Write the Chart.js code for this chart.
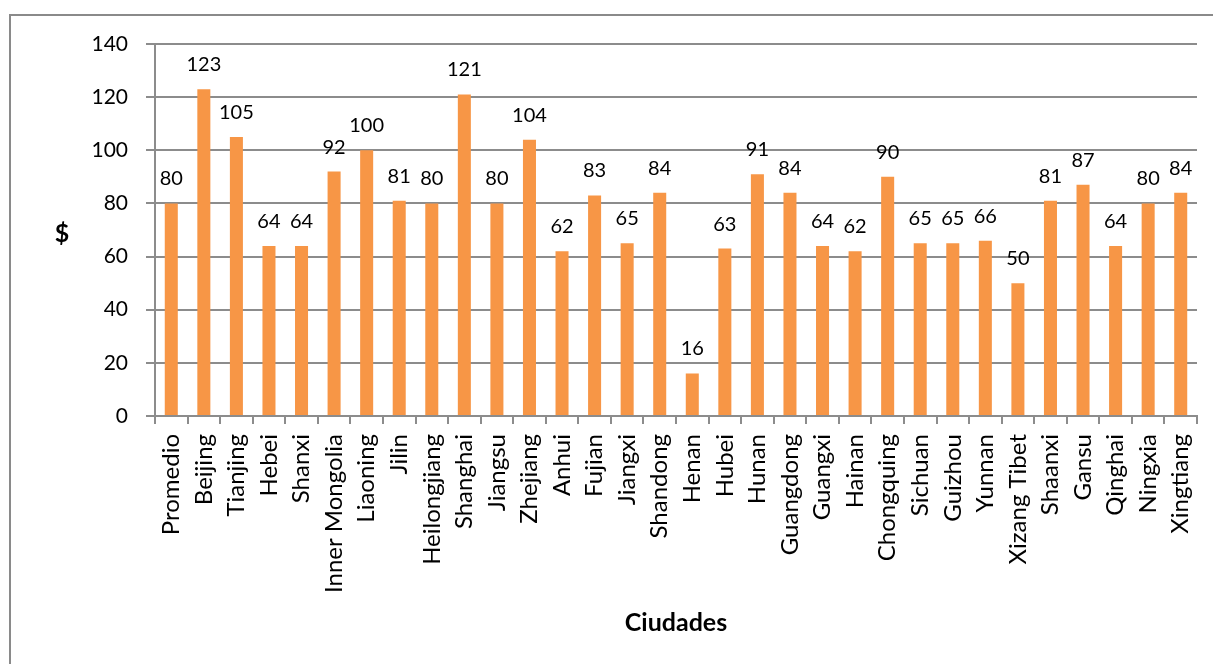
<!DOCTYPE html>
<html>
<head>
<meta charset="utf-8">
<script src="https://cdn.jsdelivr.net/npm/chart.js@4"></script>
<style>
  html, body { margin: 0; padding: 0; background: #fff; overflow: hidden; }
  #frame { position: absolute; left: 9px; top: 14px; width: 1300px; height: 700px; border: 2px solid #8a8a8a; box-sizing: border-box; }
  #wrap { position: absolute; left: 0; top: 0; width: 1213px; height: 664px; }
</style>
</head>
<body>
<div id="frame"></div>
<div id="wrap"><canvas id="c" width="1213" height="664"></canvas></div>
<script>
const categories = ["Promedio", "Beijing", "Tianjing", "Hebei", "Shanxi", "Inner Mongolia", "Liaoning", "Jilin",
  "Heilongjiang", "Shanghai", "Jiangsu", "Zhejiang", "Anhui", "Fujian", "Jiangxi", "Shandong", "Henan", "Hubei",
  "Hunan", "Guangdong", "Guangxi", "Hainan", "Chongquing", "Sichuan", "Guizhou", "Yunnan", "Xizang Tibet",
  "Shaanxi", "Gansu", "Qinghai", "Ningxia", "Xingtiang"];
const values = [80, 123, 105, 64, 64, 92, 100, 81, 80, 121, 80, 104, 62, 83, 65, 84, 16, 63, 91, 84, 64, 62, 90,
  65, 65, 66, 50, 81, 87, 64, 80, 84];
const yTicks = [0, 20, 40, 60, 80, 100, 120, 140];
const yTitle = "$";
const xTitle = "Ciudades";

const FONT = "Lato, 'Open Sans', sans-serif";
const GRID = "#8c8c8c";

// value printed above each bar, positioned from the bar element itself
const valueLabels = {
  id: "valueLabels",
  afterDatasetsDraw(chart) {
    const ctx = chart.ctx;
    const meta = chart.getDatasetMeta(0);
    ctx.save();
    ctx.font = "20px " + FONT;
    ctx.fillStyle = "#000";
    ctx.textAlign = "center";
    ctx.textBaseline = "alphabetic";
    meta.data.forEach((bar, i) => {
      ctx.fillText(String(values[i]), bar.x, bar.y - 18);
    });
    ctx.restore();
  }
};

// upright "$" on the left and the category axis title below the labels
const axisTitles = {
  id: "axisTitles",
  afterDraw(chart) {
    const ctx = chart.ctx;
    const a = chart.chartArea;
    ctx.save();
    ctx.fillStyle = "#000";
    ctx.textAlign = "center";
    ctx.textBaseline = "middle";
    ctx.font = "bold 25px " + FONT;
    ctx.fillText(yTitle, 62, 234);
    ctx.fillText(xTitle, (a.left + a.right) / 2, 623);
    ctx.restore();
  }
};

new Chart(document.getElementById("c"), {
  type: "bar",
  data: {
    labels: categories,
    datasets: [{
      data: values,
      backgroundColor: "#F79646",
      borderWidth: 0,
      barPercentage: 0.4,
      categoryPercentage: 1.0
    }]
  },
  options: {
    responsive: false,
    animation: false,
    layout: { padding: { left: 0, right: 16, top: 44, bottom: 0 } },
    plugins: { legend: { display: false }, tooltip: { enabled: false } },
    scales: {
      x: {
        grid: { drawOnChartArea: false, drawTicks: true, tickLength: 8, color: GRID, lineWidth: 2, offset: true },
        border: { display: true, color: GRID, width: 2 },
        ticks: {
          autoSkip: false, maxRotation: 90, minRotation: 90, padding: 10,
          color: "#000", font: { family: FONT, size: 24 }
        },
        afterFit(s) { s.height = 248; s.paddingLeft = 0; s.paddingRight = 0; }
      },
      y: {
        min: 0, max: 140,
        afterBuildTicks(s) { s.ticks = yTicks.map(v => ({ value: v })); },
        grid: { color: GRID, lineWidth: 2, tickLength: 9 },
        border: { display: true, color: GRID, width: 2 },
        ticks: { padding: 18, color: "#000", font: { family: FONT, size: 21 } },
        afterFit(s) { s.width = 155; }
      }
    }
  },
  plugins: [valueLabels, axisTitles]
});
</script>
</body>
</html>
